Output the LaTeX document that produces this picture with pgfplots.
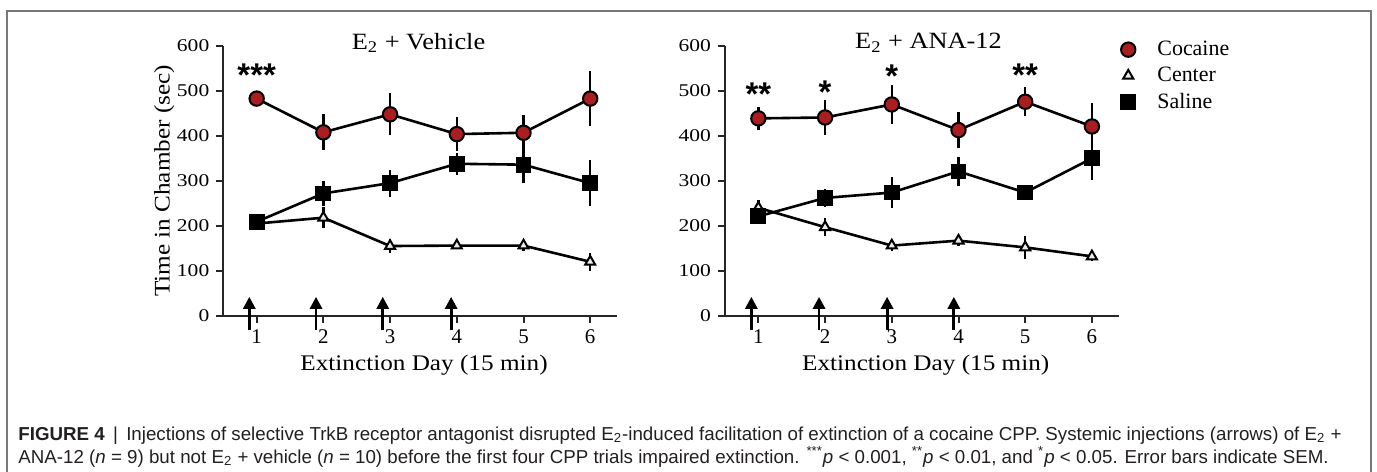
\documentclass[border=0pt]{standalone}
\usepackage{fontspec}
\setmainfont{Liberation Serif}
\newfontfamily\wideserif[FakeStretch=1.13]{Liberation Serif}
\newfontfamily\tickserif[FakeStretch=1.2]{Liberation Serif}
\newfontfamily\capsans{Liberation Sans}
\usepackage{pgfplots}
\pgfplotsset{compat=1.18}
\usetikzlibrary{arrows.meta}
\definecolor{cocred}{RGB}{170,29,33}
\definecolor{framegray}{RGB}{120,120,120}
\definecolor{captext}{RGB}{35,31,32}

\tikzset{
  inj/.style={line width=1.4bp, black, -{Triangle[length=6bp,width=6bp]}},
  stars/.style={font=\capsans\bfseries\fontsize{16.5}{16}\selectfont, inner sep=0pt, anchor=center},
}
\pgfplotsset{
  every axis title shift=0pt,
  panel/.style={
    scale only axis, width=196.8bp, height=134.85bp,
    anchor=south west,
    xmin=0.5, xmax=6.4, ymin=0, ymax=600,
    axis lines=left, axis line style={-, line width=1bp, black!85},
    xtick={1,...,6}, ytick={0,100,...,600},
    tick align=outside, major tick length=3.5bp,
    tick style={line width=1bp, black!85},
    /pgf/number format/assume math mode=true,
    xticklabel style={font=\fontsize{10.5}{11}\selectfont},
    yticklabel style={font=\tickserif\fontsize{9}{10}\selectfont},
    title style={font=\wideserif\fontsize{11.7}{13}\selectfont, anchor=center, yshift=0pt},
    xlabel style={font=\wideserif\fontsize{11.2}{13}\selectfont, at={(axis description cs:0.51,-0.183)}, anchor=center},
    ylabel style={font=\wideserif\fontsize{11.2}{13}\selectfont, at={(axis description cs:-0.15,0.5)}, anchor=center},
    clip=false,
  },
  ser/.style={line width=1.3bp, black,
    error bars/y dir=both, error bars/y explicit, error bars/error mark=none,
    error bars/error bar style={line width=1.2bp, black, solid}},
  coc/.style={ser, mark=*, mark size=3.6bp, mark options={solid, fill=cocred, draw=black, line width=1bp}},
  sal/.style={ser, mark=square*, mark size=3.3bp, mark options={solid, fill=black, draw=black}},
  cen/.style={ser, mark=triangle*, mark size=2.9bp, mark options={solid, fill=black!8, draw=black, line width=1bp}},
}

\begin{document}
\begin{tikzpicture}
\path[use as bounding box] (0,0) rectangle (688.5bp,236bp);
\draw[framegray, line width=1bp] (3.5bp,0) -- (3.5bp,230.5bp) -- (685.5bp,230.5bp) -- (685.5bp,0);

% E2 + vehicle
\begin{axis}[panel, at={(111.65bp,78.15bp)},
  title={E\textsubscript{2} + Vehicle}, title style={at={(axis description cs:0.496,1.012)}},
  xlabel={Extinction Day (15 min)}, ylabel={Time in Chamber (sec)}]
\addplot[cen, forget plot] table[y error=e] {
x y e
1 205 12
2 218 24
3 155 16
4 156 8
5 156 12
6 120 20
};
\addplot[sal, forget plot] table[y error=e] {
x y e
1 209 8
2 272 28
3 295 30
4 338 24
5 336 40
6 295 52
};
\addplot[coc, forget plot] table[y error=e] {
x y e
1 483 8
2 408 40
3 448 47
4 404 37
5 407 40
6 483 62
};
\draw[inj] (axis cs:0.89,-32) -- (axis cs:0.89,42);
\draw[inj] (axis cs:1.89,-32) -- (axis cs:1.89,42);
\draw[inj] (axis cs:2.89,-32) -- (axis cs:2.89,42);
\draw[inj] (axis cs:3.915,-32) -- (axis cs:3.915,42);
\node[stars] at (axis cs:1,534) {***};
\end{axis}

% E2 + ANA-12
\begin{axis}[panel, at={(362.5bp,78.15bp)},
  title={E\textsubscript{2} + ANA-12}, title style={at={(axis description cs:0.517,1.012)}},
  xlabel={Extinction Day (15 min)},
  legend style={draw=none, fill=none, font=\fontsize{11}{12.5}\selectfont,
    at={(0.99,1.05)}, anchor=north west, row sep=0.3bp, column sep=9bp},
  legend cell align=left]
\addlegendimage{only marks, coc}
\addlegendimage{only marks, cen}
\addlegendimage{only marks, sal}
\addplot[cen, forget plot] table[y error=e] {
x y e
1 240 18
2 197 20
3 156 12
4 167 12
5 152 25
6 132 10
};
\addplot[sal, forget plot] table[y error=e] {
x y e
1 221 8
2 262 20
3 274 35
4 321 32
5 274 12
6 350 48
};
\addplot[coc, forget plot] table[y error=e] {
x y e
1 439 25
2 441 38
3 470 44
4 413 41
5 476 32
6 421 52
};
\legend{Cocaine,Center,Saline}
\draw[inj] (axis cs:0.895,-32) -- (axis cs:0.895,42);
\draw[inj] (axis cs:1.91,-32) -- (axis cs:1.91,42);
\draw[inj] (axis cs:2.93,-32) -- (axis cs:2.93,42);
\draw[inj] (axis cs:3.93,-32) -- (axis cs:3.93,42);
\node[stars] at (axis cs:1,492) {**};
\node[stars] at (axis cs:2,498) {*};
\node[stars] at (axis cs:3,533) {*};
\node[stars] at (axis cs:5,535) {**};
\end{axis}

\node[anchor=base west, inner sep=0pt, text=captext, font=\capsans\fontsize{9.4}{10}\selectfont] at (9bp,16bp)
  {\textbf{FIGURE 4} \,|\, Injections of selective TrkB receptor antagonist disrupted E\textsubscript{2}-induced facilitation of extinction of a cocaine CPP. Systemic injections (arrows) of E\textsubscript{2} +};
\node[anchor=base west, inner sep=0pt, text=captext, font=\capsans\fontsize{9.4}{10}\selectfont] at (9bp,4.5bp)
  {ANA-12 (\textit{n} = 9) but not E\textsubscript{2} + vehicle (\textit{n} = 10) before the first four CPP trials impaired extinction. \textsuperscript{***}\textit{p} < 0.001, \textsuperscript{**}\textit{p} < 0.01, and \textsuperscript{*}\textit{p} < 0.05. Error bars indicate SEM.};
\end{tikzpicture}
\end{document}
